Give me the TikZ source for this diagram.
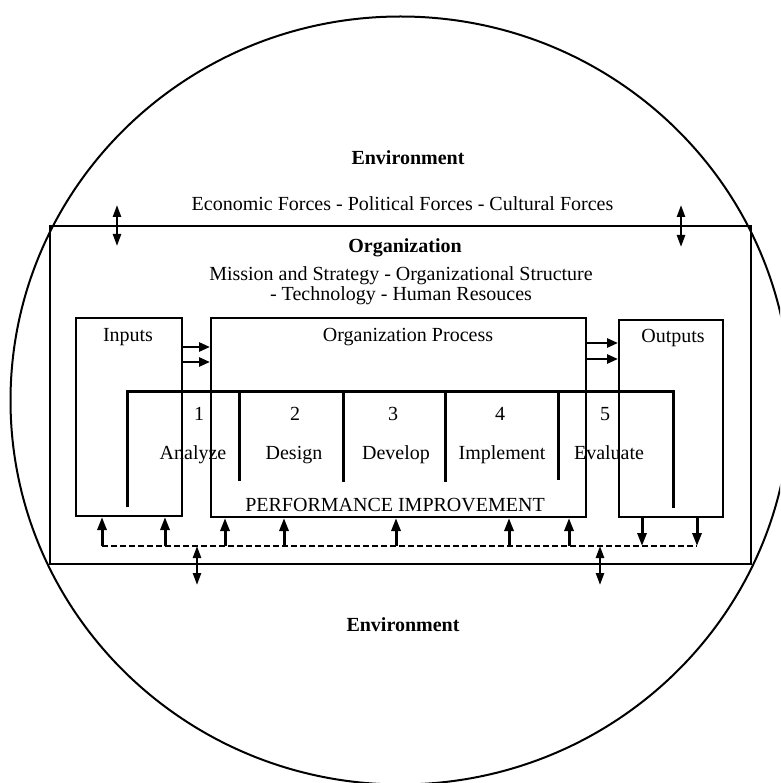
\documentclass[tikz,border=0pt]{standalone}
\usepackage{fontspec}
\setmainfont{Liberation Serif}
\usetikzlibrary{arrows.meta,calc}
\begin{document}
\begin{tikzpicture}[x=1pt,y=-1pt,
  box/.style={draw, line width=2pt, inner sep=0pt},
  lbl/.style={anchor=base, inner sep=0pt, font=\fontsize{20}{24}\selectfont},
  blbl/.style={anchor=base, inner sep=0pt, font=\fontsize{20}{24}\selectfont\bfseries},
  bar/.style={line width=3pt},
  flow/.style={line width=2.6pt, -{Triangle[length=11pt,width=9pt]}},
  fb/.style={line width=3pt, -{Triangle[length=13pt,width=9pt]}},
  bus/.style={line width=2.2pt, dash pattern=on 5.5pt off 3.5pt},
  twoway/.style={line width=2.4pt, {Triangle[length=12pt,width=8pt]}-{Triangle[length=12pt,width=8pt]}}
]
\useasboundingbox (0,0) rectangle (780,783);
\clip (0,0) rectangle (780,783);

% environment circle
\draw[line width=2pt] (400.5,400.5) ellipse [x radius=390, y radius=384];

% boxes
\node[box, minimum width=701pt, minimum height=338pt] (org) at (400.5,395) {};
\node[box, minimum width=106pt, minimum height=198pt] (inputs) at (129,417) {};
\node[box, minimum width=375pt, minimum height=199pt] (process) at (398.5,417.5) {};
\node[box, minimum width=104pt, minimum height=197pt] (outputs) at (671,418.5) {};

% texts
\node[blbl] (envtop) at (408,165) {Environment};
\node[lbl] (forces) at (402.5,211) {Economic Forces - Political Forces - Cultural Forces};
\node[blbl] (orgtitle) at (405,253) {Organization};
\node[lbl] (mission) at (401,280) {Mission and Strategy - Organizational Structure};
\node[lbl] (tech) at (401,300) {- Technology - Human Resouces};
\node[lbl] (inlbl) at (128,341) {Inputs};
\node[lbl] (proclbl) at (408,341) {Organization Process};
\node[lbl] (outlbl) at (673,342) {Outputs};
\node[lbl] (n1) at (199,420) {1};
\node[lbl] (n2) at (295,420) {2};
\node[lbl] (n3) at (393,420) {3};
\node[lbl] (n4) at (500,420) {4};
\node[lbl] (n5) at (605,420) {5};
\node[lbl] (s1) at (193,459) {Analyze};
\node[lbl] (s2) at (294,459) {Design};
\node[lbl] (s3) at (396,459) {Develop};
\node[lbl] (s4) at (502,459) {Implement};
\node[lbl] (s5) at (609,459) {Evaluate};
\node[lbl] (pi) at (395,511) {PERFORMANCE IMPROVEMENT};
\node[blbl] (envbot) at (403,631) {Environment};

% performance improvement bracket
\coordinate (brLb) at (127,507);
\coordinate (brL) at (127,391);
\coordinate (brR) at (673,391);
\coordinate (brRb) at (673,508);
\draw[bar] (brLb) -- (brL) -- (brR) -- (brRb);
\foreach \x/\e in {239/481,343/482,445/482,558/480}
  \draw[bar] (\x,391) -- (\x,\e);

% flow arrows
\draw[flow] (inputs.east |- 0,347) -- (process.west |- 0,347);
\draw[flow] (inputs.east |- 0,362) -- (process.west |- 0,362);
\draw[flow] (process.east |- 0,343) -- (outputs.west |- 0,343);
\draw[flow] (process.east |- 0,359) -- (outputs.west |- 0,359);

% feedback bus
\coordinate (busL) at (102,546);
\coordinate (busR) at (697,546);
\draw[bus] (busL) -- (busR);
\foreach \x in {102,165}
  \draw[fb] (busL -| \x,0) -- (inputs.south -| \x,0);
\foreach \x in {225,284,396,509,569}
  \draw[fb] (busL -| \x,0) -- (process.south -| \x,0);
\foreach \x in {642,697}
  \draw[fb] (outputs.south -| \x,0) -- (busL -| \x,0);

% environment exchange arrows
\coordinate (tl1) at (117,205); \coordinate (tl2) at (117,246);
\coordinate (tr1) at (681,205); \coordinate (tr2) at (681,247);
\coordinate (bl1) at (197,546); \coordinate (bl2) at (197,585);
\coordinate (br1) at (600,546); \coordinate (br2) at (600,585);
\draw[twoway] (tl1) -- (tl2);
\draw[twoway] (tr1) -- (tr2);
\draw[twoway] (bl1) -- (bl2);
\draw[twoway] (br1) -- (br2);
\end{tikzpicture}
\end{document}
